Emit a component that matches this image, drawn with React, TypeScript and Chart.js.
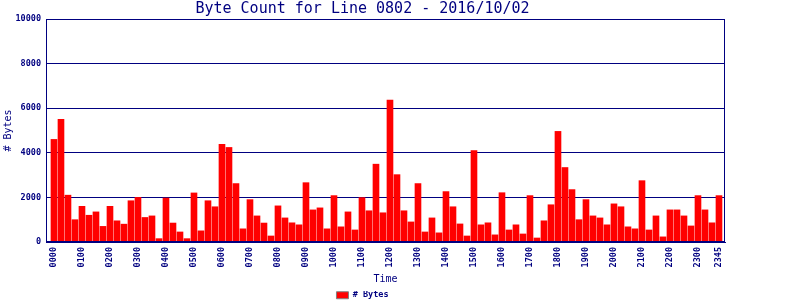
import React, { useEffect, useRef } from "react";
import { Chart, registerables } from "chart.js";

Chart.register(...registerables);

const TITLE = "Byte Count for Line 0802 - 2016/10/02";
const X_TITLE = "Time";
const Y_TITLE = "# Bytes";
const SERIES_LABEL = "# Bytes";

// 15-minute intervals of the day
const times: string[] = Array.from({ length: 96 }, (_, i) => {
  const h = Math.floor(i / 4);
  const m = (i % 4) * 15;
  return String(h).padStart(2, "0") + String(m).padStart(2, "0");
});

const bytes: number[] = [
  4600, 5500, 2100, 1000, // 0000
  1600, 1200, 1350, 700, // 0100
  1600, 950, 800, 1850, // 0200
  2000, 1100, 1170, 150, // 0300
  1970, 850, 450, 150, // 0400
  2200, 500, 1850, 1580, // 0500
  4380, 4240, 2620, 590, // 0600
  1900, 1170, 850, 270, // 0700
  1620, 1080, 860, 770, // 0800
  2660, 1440, 1530, 590, // 0900
  2080, 680, 1350, 540, // 1000
  1990, 1400, 3490, 1310, // 1100
  6360, 3020, 1400, 900, // 1200
  2620, 450, 1080, 410, // 1300
  2260, 1580, 810, 270, // 1400
  4100, 770, 860, 320, // 1500
  2210, 540, 770, 360, // 1600
  2080, 180, 950, 1670, // 1700
  4960, 3340, 2350, 1000, // 1800
  1900, 1170, 1080, 770, // 1900
  1710, 1580, 680, 590, // 2000
  2750, 540, 1170, 230, // 2100
  1440, 1440, 1170, 720, // 2200
  2080, 1440, 860, 2080, // 2300
];

const xTickIndices: number[] = [
  0, 4, 8, 12, 16, 20, 24, 28, 32, 36, 40, 44, 48, 52, 56, 60, 64, 68, 72, 76,
  80, 84, 88, 92, 95,
];
const yTicks: number[] = [0, 2000, 4000, 6000, 8000, 10000];

const NAVY = "#000080";
const MONO = "'DejaVu Sans Mono', 'Liberation Mono', monospace";
const LEGEND_H = 9;

export default function App() {
  const ref = useRef<HTMLCanvasElement>(null);

  useEffect(() => {
    document.body.style.margin = "0";
    const boxPlugin = {
      id: "plotBox",
      afterDraw(chart: any) {
        const { ctx, chartArea: a } = chart;
        ctx.save();
        ctx.strokeStyle = NAVY;
        ctx.lineWidth = 1;
        ctx.strokeRect(
          Math.round(a.left) + 0.5,
          Math.round(a.top) + 0.5,
          Math.round(a.right - a.left) - 1,
          Math.round(a.bottom - a.top) - 1
        );
        ctx.restore();
      },
    };

    const chart = new Chart(ref.current as HTMLCanvasElement, {
      type: "bar",
      data: {
        datasets: [
          {
            label: SERIES_LABEL,
            data: bytes.map((v, i) => ({ x: i, y: v })),
            backgroundColor: "#ff0000",
            borderWidth: 0,
            barThickness: 6,
          } as any,
        ],
      },
      options: {
        animation: false,
        responsive: false,
        layout: { padding: { left: 0, right: 75, top: 0, bottom: 0 } },
        plugins: {
          title: {
            display: true,
            text: TITLE,
            color: NAVY,
            font: { family: MONO, size: 15, weight: "normal" },
            padding: { top: 0, bottom: 1 },
          },
          legend: {
            position: "bottom",
            maxHeight: LEGEND_H,
            labels: {
              color: NAVY,
              font: { family: MONO, size: 8.5, weight: "bold" },
              boxWidth: 12,
              boxHeight: 7,
              padding: 0,
              generateLabels: (c: any) =>
                (Chart.defaults.plugins.legend.labels as any)
                  .generateLabels(c)
                  .map((l: any) => ({ ...l, strokeStyle: "#808080", lineWidth: 1 })),
            },
          },
          tooltip: { enabled: false },
        },
        scales: {
          x: {
            type: "linear",
            offset: false,
            min: -1.14,
            max: 95.86,
            grid: { display: false, drawTicks: false },
            border: { color: NAVY, width: 1 },
            afterBuildTicks: (axis: any) => {
              axis.ticks = xTickIndices.map((v) => ({ value: v }));
            },
            afterFit: (axis: any) => {
              const lh = axis.chart.legend ? axis.chart.legend.height || 0 : 0;
              axis.height = 300 - 242 - lh;
            },
            ticks: {
              color: NAVY,
              font: { family: MONO, size: 8.5, weight: "bold" },
              minRotation: 90,
              maxRotation: 90,
              autoSkip: false,
              padding: 5,
              callback: (v: any) => times[v as number] ?? "",
            },
            title: {
              display: true,
              text: X_TITLE,
              color: NAVY,
              font: { family: MONO, size: 10, weight: "normal" },
              padding: { top: 2, bottom: 6 },
            },
          },
          y: {
            min: 0,
            max: 10000,
            afterBuildTicks: (axis: any) => {
              axis.ticks = yTicks.map((v) => ({ value: v }));
            },
            afterFit: (axis: any) => {
              axis.width = 46;
            },
            grid: { color: NAVY, drawTicks: false, lineWidth: 1 },
            border: { color: NAVY, width: 1 },
            ticks: {
              color: NAVY,
              font: { family: MONO, size: 8.5, weight: "bold" },
              padding: 5,
              callback: (v: any) => String(v),
            },
            title: {
              display: true,
              text: Y_TITLE,
              color: NAVY,
              font: { family: MONO, size: 10, weight: "normal" },
              padding: { top: 2, bottom: 2 },
            },
          },
        },
      } as any,
      plugins: [boxPlugin],
    });
    return () => chart.destroy();
  }, []);

  return <canvas ref={ref} width={800} height={300} style={{ display: "block" }} />;
}
